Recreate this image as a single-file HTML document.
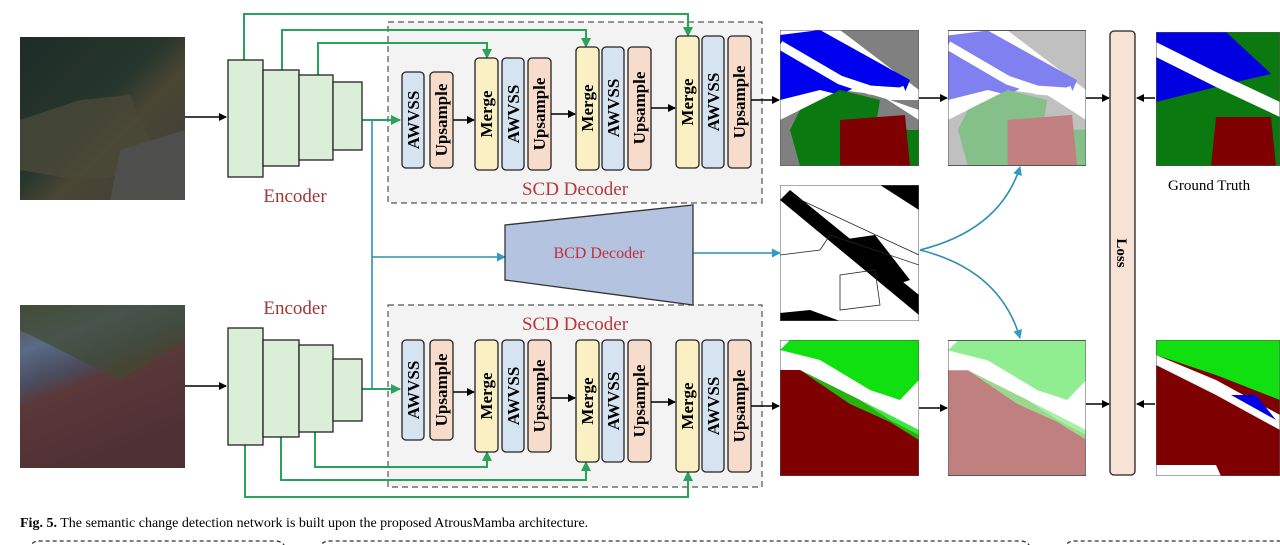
<!DOCTYPE html>
<html><head><meta charset="utf-8"><style>
body{margin:0;background:#fff;width:1280px;height:545px;overflow:hidden}
svg{display:block}
text{font-family:"Liberation Serif",serif}
</style></head><body>
<svg width="1280" height="545" viewBox="0 0 1280 545" xmlns="http://www.w3.org/2000/svg">
<defs>
<marker id="ak" markerWidth="8" markerHeight="8" refX="7" refY="4" orient="auto" markerUnits="userSpaceOnUse"><path d="M0,0 L8,4 L0,8 z" fill="#000"/></marker>
<marker id="ag" markerWidth="10" markerHeight="10" refX="9" refY="5" orient="auto" markerUnits="userSpaceOnUse"><path d="M0,0 L10,5 L0,10 z" fill="#2aa35a"/></marker>
<marker id="at" markerWidth="9" markerHeight="9" refX="8" refY="4.5" orient="auto" markerUnits="userSpaceOnUse"><path d="M0,0 L9,4.5 L0,9 z" fill="#2f9cc0"/></marker>
<linearGradient id="p1" x1="0" y1="0" x2="1" y2="1"><stop offset="0" stop-color="#1e2c28"/><stop offset="0.45" stop-color="#27362c"/><stop offset="0.6" stop-color="#4a4634"/><stop offset="1" stop-color="#3c3d3b"/></linearGradient>
<linearGradient id="p2" x1="0" y1="0" x2="0.4" y2="1"><stop offset="0" stop-color="#4a5240"/><stop offset="0.25" stop-color="#5a6a88"/><stop offset="0.45" stop-color="#4a4a5a"/><stop offset="0.55" stop-color="#5a3838"/><stop offset="1" stop-color="#4e3035"/></linearGradient>
</defs>

<!-- photos -->
<rect x="20" y="37" width="165" height="163" fill="url(#p1)"/>
<path d="M20,120 L80,100 L130,95 L150,140 L130,175 L80,180 L20,170Z" fill="#4a4838" opacity="0.8"/>
<path d="M120,150 L185,130 L185,200 L110,200Z" fill="#4e4e4c"/>
<rect x="20" y="305" width="165" height="163" fill="url(#p2)"/>
<path d="M20,305 L185,305 L185,340 L120,380 L20,330Z" fill="#3e4a32" opacity="0.7"/>

<!-- decoder boxes -->
<rect x="388" y="22" width="374" height="181" fill="#f3f3f3" stroke="#555" stroke-dasharray="6,4" stroke-width="1.2"/>
<rect x="388" y="305" width="374" height="182" fill="#f3f3f3" stroke="#555" stroke-dasharray="6,4" stroke-width="1.2"/>
<text x="575" y="195" font-size="19" fill="#b8383a" text-anchor="middle">SCD Decoder</text>
<text x="575" y="330" font-size="19" fill="#b8383a" text-anchor="middle">SCD Decoder</text>

<!-- arrows to encoders -->
<line x1="185" y1="117" x2="226" y2="117" stroke="#000" stroke-width="1.5" marker-end="url(#ak)"/>
<line x1="185" y1="386" x2="226" y2="386" stroke="#000" stroke-width="1.5" marker-end="url(#ak)"/>

<!-- green skip lines -->
<g fill="none" stroke="#2aa35a" stroke-width="2">
<path d="M244,60 V14 H688 V36" marker-end="url(#ag)"/>
<path d="M282,70 V30 H586 V47" marker-end="url(#ag)"/>
<path d="M318,75 V43 H487 V58" marker-end="url(#ag)"/>
<path d="M362,120 H400" marker-end="url(#ag)"/>
<path d="M245,445 V497 H688 V472" marker-end="url(#ag)"/>
<path d="M281,437 V480 H586 V462" marker-end="url(#ag)"/>
<path d="M315,432 V467 H487 V452" marker-end="url(#ag)"/>
<path d="M362,389 H400" marker-end="url(#ag)"/>
</g>
<!-- teal -->
<g fill="none" stroke="#2f8fb0" stroke-width="1.6">
<path d="M372,120 V389"/>
<path d="M372,257 H505" marker-end="url(#at)"/>
<path d="M693,253 H780" marker-end="url(#at)"/>
<path d="M920,250 Q1000,230 1020,167" marker-end="url(#at)"/>
<path d="M920,250 Q1000,270 1020,338" marker-end="url(#at)"/>
</g>

<!-- encoders -->
<g fill="#dbeed8" stroke="#222" stroke-width="1.3">
<rect x="228" y="60" width="35" height="117"/>
<rect x="263" y="70" width="36" height="96"/>
<rect x="299" y="75" width="34" height="85"/>
<rect x="333" y="82" width="29" height="68"/>
<rect x="228" y="328" width="35" height="117"/>
<rect x="263" y="340" width="36" height="97"/>
<rect x="299" y="345" width="34" height="87"/>
<rect x="333" y="359" width="29" height="62"/>
</g>
<text x="295" y="202" font-size="19" fill="#a2363a" text-anchor="middle">Encoder</text>
<text x="295" y="314" font-size="19" fill="#a2363a" text-anchor="middle">Encoder</text>

<!-- blocks -->
<g stroke="#222" stroke-width="1.3">
<rect x="402" y="72" width="22" height="96" rx="4" fill="#d6e4f2"/>
<rect x="430" y="72" width="23" height="96" rx="4" fill="#f7dccb"/>
<rect x="475" y="58" width="23" height="112" rx="4" fill="#fbefc4"/>
<rect x="502" y="58" width="22" height="112" rx="4" fill="#d6e4f2"/>
<rect x="528" y="58" width="23" height="112" rx="4" fill="#f7dccb"/>
<rect x="576" y="47" width="23" height="123" rx="4" fill="#fbefc4"/>
<rect x="602" y="47" width="22" height="123" rx="4" fill="#d6e4f2"/>
<rect x="628" y="47" width="23" height="123" rx="4" fill="#f7dccb"/>
<rect x="676" y="36" width="23" height="132" rx="4" fill="#fbefc4"/>
<rect x="702" y="36" width="22" height="132" rx="4" fill="#d6e4f2"/>
<rect x="728" y="36" width="23" height="132" rx="4" fill="#f7dccb"/>

<rect x="402" y="340" width="22" height="100" rx="4" fill="#d6e4f2"/>
<rect x="430" y="340" width="23" height="100" rx="4" fill="#f7dccb"/>
<rect x="475" y="340" width="23" height="112" rx="4" fill="#fbefc4"/>
<rect x="502" y="340" width="22" height="112" rx="4" fill="#d6e4f2"/>
<rect x="528" y="340" width="23" height="112" rx="4" fill="#f7dccb"/>
<rect x="576" y="340" width="23" height="122" rx="4" fill="#fbefc4"/>
<rect x="602" y="340" width="22" height="122" rx="4" fill="#d6e4f2"/>
<rect x="628" y="340" width="23" height="122" rx="4" fill="#f7dccb"/>
<rect x="676" y="340" width="23" height="132" rx="4" fill="#fbefc4"/>
<rect x="702" y="340" width="22" height="132" rx="4" fill="#d6e4f2"/>
<rect x="728" y="340" width="23" height="132" rx="4" fill="#f7dccb"/>
</g>
<g stroke="#000" stroke-width="1.4">
<line x1="453" y1="120" x2="474" y2="120" marker-end="url(#ak)"/>
<line x1="551" y1="114" x2="575" y2="114" marker-end="url(#ak)"/>
<line x1="651" y1="108" x2="675" y2="108" marker-end="url(#ak)"/>
<line x1="751" y1="100" x2="779" y2="100" marker-end="url(#ak)"/>
<line x1="453" y1="392" x2="474" y2="392" marker-end="url(#ak)"/>
<line x1="551" y1="398" x2="575" y2="398" marker-end="url(#ak)"/>
<line x1="651" y1="402" x2="675" y2="402" marker-end="url(#ak)"/>
<line x1="751" y1="406" x2="779" y2="406" marker-end="url(#ak)"/>
<line x1="918" y1="98" x2="947" y2="98" marker-end="url(#ak)"/>
<line x1="918" y1="408" x2="947" y2="408" marker-end="url(#ak)"/>
<line x1="1085" y1="98" x2="1109" y2="98" marker-end="url(#ak)"/>
<line x1="1085" y1="404" x2="1109" y2="404" marker-end="url(#ak)"/>
<line x1="1155" y1="98" x2="1137" y2="98" marker-end="url(#ak)"/>
<line x1="1155" y1="404" x2="1137" y2="404" marker-end="url(#ak)"/>
</g>
<g font-size="17" font-weight="bold" fill="#000" text-anchor="middle">
<text transform="translate(419,120) rotate(-90)">AWVSS</text>
<text transform="translate(447,120) rotate(-90)">Upsample</text>
<text transform="translate(492,114) rotate(-90)">Merge</text>
<text transform="translate(519,114) rotate(-90)">AWVSS</text>
<text transform="translate(545,114) rotate(-90)">Upsample</text>
<text transform="translate(593,108) rotate(-90)">Merge</text>
<text transform="translate(619,108) rotate(-90)">AWVSS</text>
<text transform="translate(645,108) rotate(-90)">Upsample</text>
<text transform="translate(693,102) rotate(-90)">Merge</text>
<text transform="translate(719,102) rotate(-90)">AWVSS</text>
<text transform="translate(745,102) rotate(-90)">Upsample</text>
<text transform="translate(419,390) rotate(-90)">AWVSS</text>
<text transform="translate(447,390) rotate(-90)">Upsample</text>
<text transform="translate(492,396) rotate(-90)">Merge</text>
<text transform="translate(519,396) rotate(-90)">AWVSS</text>
<text transform="translate(545,396) rotate(-90)">Upsample</text>
<text transform="translate(593,401) rotate(-90)">Merge</text>
<text transform="translate(619,401) rotate(-90)">AWVSS</text>
<text transform="translate(645,401) rotate(-90)">Upsample</text>
<text transform="translate(693,406) rotate(-90)">Merge</text>
<text transform="translate(719,406) rotate(-90)">AWVSS</text>
<text transform="translate(745,406) rotate(-90)">Upsample</text>
</g>

<!-- BCD -->
<path d="M505,225 L693,205 L693,305 L505,280Z" fill="#b3c3e0" stroke="#333" stroke-width="1.3"/>
<text x="599" y="258" font-size="16" fill="#c0303a" text-anchor="middle">BCD Decoder</text>

<!-- top seg 1 -->
<svg x="780" y="30" width="139" height="136" viewBox="0 0 139 136">
<rect width="139" height="136" fill="#808080"/>
<path d="M0,0 L60,0 L139,60 L139,70 L110,70 L60,55 L0,30Z" fill="#fff"/>
<path d="M0,30 L60,55 L110,70 L139,80 L139,90 L100,65 L60,60 L0,90Z" fill="#fff"/>
<path d="M0,5 L40,0 L130,50 L125,62 L80,55 L60,65 L40,60 L0,70Z" fill="#0000f0"/>
<path d="M0,15 L60,50 L90,60 L120,62 L125,60" fill="none" stroke="#fff" stroke-width="9"/>
<path d="M20,80 L60,60 L100,70 L95,100 L139,100 L139,136 L20,136 L10,100Z" fill="#0a7a10"/>
<path d="M60,90 L125,85 L130,136 L60,136Z" fill="#7e0000"/>
<rect width="139" height="136" fill="none" stroke="#555"/>
</svg>
<!-- top seg 2 -->
<svg x="948" y="30" width="138" height="136" viewBox="0 0 139 136">
<rect width="139" height="136" fill="#c0c0c0"/>
<path d="M0,0 L60,0 L139,60 L139,90 L100,65 L60,60 L0,90Z" fill="#fff"/>
<path d="M0,5 L40,0 L130,50 L125,62 L80,55 L60,65 L40,60 L0,70Z" fill="#8080f0"/>
<path d="M0,15 L60,50 L90,60 L120,62 L125,60" fill="none" stroke="#fff" stroke-width="9"/>
<path d="M20,80 L60,60 L100,70 L95,100 L139,100 L139,136 L20,136 L10,100Z" fill="#84c088"/>
<path d="M60,90 L125,85 L130,136 L60,136Z" fill="#c28080"/>
<rect width="139" height="136" fill="none" stroke="#555"/>
</svg>
<!-- BCD out -->
<svg x="780" y="185" width="139" height="136" viewBox="0 0 139 136">
<rect width="139" height="136" fill="#fff"/>
<path d="M0,15 L10,5 L139,110 L139,130Z" fill="#000"/>
<path d="M100,0 L139,0 L139,25Z" fill="#000"/>
<path d="M60,55 L95,50 L130,95 L115,100Z" fill="#000"/>
<path d="M0,128 L30,125 L60,136 L0,136Z" fill="#000"/>
<path d="M0,70 L40,65 L50,50 L139,80 M60,90 L95,85 L100,120 L60,125Z M10,10 L139,70" fill="none" stroke="#222" stroke-width="0.8"/>
<rect width="139" height="136" fill="none" stroke="#555"/>
</svg>
<!-- bottom seg 1 -->
<svg x="780" y="340" width="139" height="136" viewBox="0 0 139 136">
<rect width="139" height="136" fill="#fff"/>
<path d="M10,0 L139,0 L139,40 L120,60 L90,50 L40,20 L0,10Z" fill="#10e010"/>
<path d="M20,30 L80,60 L110,80 L139,95 L139,136 L0,136 L0,30Z" fill="#7e0000"/>
<path d="M20,30 L60,50 L100,70 L139,90 L139,100 L110,82 L70,64Z" fill="#10e010" opacity="0.8"/>
<rect width="139" height="136" fill="none" stroke="#555"/>
</svg>
<!-- bottom seg 2 -->
<svg x="948" y="340" width="138" height="136" viewBox="0 0 139 136">
<rect width="139" height="136" fill="#fff"/>
<path d="M10,0 L139,0 L139,40 L120,60 L90,50 L40,20 L0,10Z" fill="#90ee90"/>
<path d="M20,30 L80,60 L110,80 L139,95 L139,136 L0,136 L0,30Z" fill="#c08080"/>
<path d="M20,30 L60,50 L100,70 L139,90 L139,100 L110,82 L70,64Z" fill="#90ee90" opacity="0.8"/>
<rect width="139" height="136" fill="none" stroke="#555"/>
</svg>
<!-- Loss -->
<rect x="1110" y="31" width="25" height="444" rx="4" fill="#f8e2d6" stroke="#222" stroke-width="1.3"/>
<text transform="translate(1117,253) rotate(90)" font-size="15" font-weight="bold" text-anchor="middle">Loss</text>
<!-- GT -->
<svg x="1156" y="32" width="124" height="134" viewBox="0 0 124 134">
<rect width="124" height="134" fill="#0a7a10"/>
<path d="M0,0 L124,0 L124,40 L80,50 L40,60 L0,70Z" fill="#0000e0"/>
<path d="M0,10 L60,40 L124,70 L124,85 L60,55 L0,25Z" fill="#fff"/>
<path d="M70,0 L124,0 L124,50Z" fill="#0a7a10"/>
<path d="M60,85 L115,85 L120,134 L55,134Z" fill="#7e0000"/>
<rect width="124" height="134" fill="none" stroke="#555"/>
</svg>
<svg x="1156" y="340" width="124" height="136" viewBox="0 0 124 136">
<rect width="124" height="136" fill="#7e0000"/>
<path d="M0,0 L124,0 L124,60 L60,35 L0,15Z" fill="#10e010"/>
<path d="M0,15 L60,40 L124,75 L124,90 L60,55 L0,25Z" fill="#fff"/>
<path d="M75,55 L100,55 L120,80Z" fill="#0000e0"/>
<path d="M0,125 L60,125 L65,136 L0,136Z" fill="#fff"/>
<rect width="124" height="136" fill="none" stroke="#555"/>
</svg>
<text x="1168" y="190" font-size="15">Ground Truth</text>

<!-- caption -->
<text x="20" y="527" font-size="14"><tspan font-weight="bold">Fig. 5.</tspan> The semantic change detection network is built upon the proposed AtrousMamba architecture.</text>
<g fill="none" stroke="#333" stroke-dasharray="4,3" stroke-width="1.3">
<path d="M30,550 Q30,541 40,541 H275 Q285,541 285,550"/>
<path d="M320,550 Q320,541 330,541 H1020 Q1030,541 1030,550"/>
<path d="M1065,550 Q1065,541 1075,541 H1290"/>
</g>
</svg>
</body></html>
